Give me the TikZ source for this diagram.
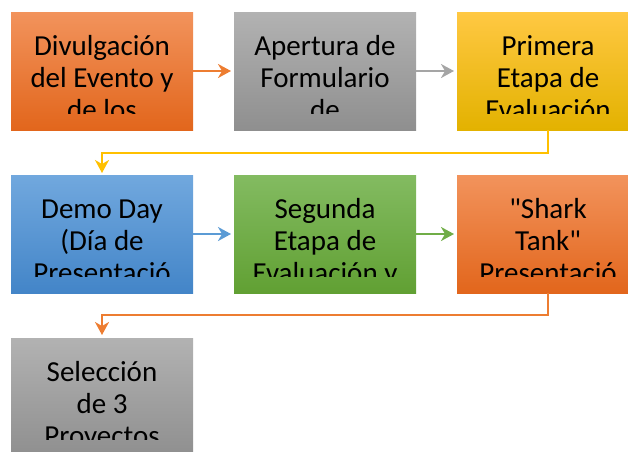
\documentclass[tikz,border=0pt]{standalone}
\usepackage{fontspec}
\setmainfont{Carlito}
\usepackage{xcolor}
\usetikzlibrary{positioning,arrows.meta}
\definecolor{oraTop}{HTML}{F2935C}
\definecolor{oraBot}{HTML}{E2661C}
\definecolor{gryTop}{HTML}{B2B2B2}
\definecolor{gryBot}{HTML}{8F8F8F}
\definecolor{ylwTop}{HTML}{FFC843}
\definecolor{ylwBot}{HTML}{E3B200}
\definecolor{bluTop}{HTML}{71A8DE}
\definecolor{bluBot}{HTML}{4385C8}
\definecolor{grnTop}{HTML}{83BB61}
\definecolor{grnBot}{HTML}{61A033}
\definecolor{oraLine}{HTML}{ED7D31}
\definecolor{gryLine}{HTML}{A5A5A5}
\definecolor{ylwLine}{HTML}{FFC000}
\definecolor{bluLine}{HTML}{5B9BD5}
\definecolor{grnLine}{HTML}{70AD47}
\tikzstyle{stage} = [rectangle, minimum width=182pt, minimum height=118pt,
    inner sep=0pt, outer sep=0pt]
\tikzstyle{stagetext} = [align=center, inner sep=0pt, anchor=base,
    font=\fontsize{29}{32}\selectfont]
\tikzstyle{flow} = [line width=2pt,
    -{Stealth[length=13pt, width=14pt, inset=4pt]}]

% box with text cut at its inner bottom edge (3 lines, base = last line)
\newcommand{\stagelabel}[2]{
    \begin{scope}
    \clip (#1.north west) rectangle ([yshift=17pt]#1.south east);
    \node[stagetext] (#1txt) at ([yshift=-107pt]#1.north) {#2};
    \end{scope}
}

\begin{document}
\begin{tikzpicture}[node distance=41pt]
\useasboundingbox (0,0) rectangle (628pt,-451pt);
% first row
\node[stage, top color=oraTop, bottom color=oraBot, anchor=north west] (evento) at (11pt,-12pt) {};
\node[stage, top color=gryTop, bottom color=gryBot, right=of evento] (formulario) {};
\node[stage, top color=ylwTop, bottom color=ylwBot, right=of formulario] (etapauno) {};
% second row
\node[stage, top color=bluTop, bottom color=bluBot, below=45pt of evento] (demoday) {};
\node[stage, top color=grnTop, bottom color=grnBot, right=of demoday] (etapados) {};
\node[stage, top color=oraTop, bottom color=oraBot, right=of etapados] (shark) {};
% third row
\node[stage, top color=gryTop, bottom color=gryBot, below=45pt of demoday] (seleccion) {};

\stagelabel{evento}{Divulgación\\del Evento y\\de los}
\stagelabel{formulario}{Apertura de\\Formulario\\de}
\stagelabel{etapauno}{Primera\\Etapa de\\Evaluación}
\stagelabel{demoday}{Demo Day\\(Día de\\Presentació}
\stagelabel{etapados}{Segunda\\Etapa de\\Evaluación y}
\stagelabel{shark}{\textquotedbl Shark\\Tank\textquotedbl\\Presentació}
\stagelabel{seleccion}{Selección\\de 3\\Proyectos}

% connectors
\draw[flow, draw=oraLine, shorten >=3pt] (evento) -- (formulario);
\draw[flow, draw=gryLine, shorten >=3pt] (formulario) -- (etapauno);
\draw[flow, draw=ylwLine, shorten >=2pt] (etapauno.south) -- ++(0,-23pt) -| (demoday.north);
\draw[flow, draw=bluLine, shorten >=3pt] (demoday) -- (etapados);
\draw[flow, draw=grnLine, shorten >=3pt] (etapados) -- (shark);
\draw[flow, draw=oraLine, shorten >=3pt] (shark.south) -- ++(0,-22pt) -| (seleccion.north);
\end{tikzpicture}
\end{document}
